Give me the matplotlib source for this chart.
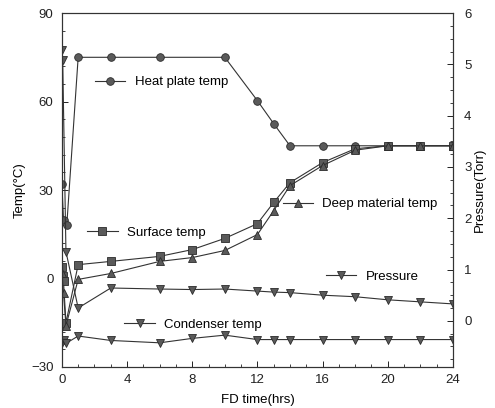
import matplotlib
matplotlib.use('Agg')
import matplotlib.pyplot as plt
from matplotlib.legend import Legend
from matplotlib.ticker import MultipleLocator

plt.rcParams['font.family'] = ['Liberation Sans', 'DejaVu Sans']

# freeze-drying run, temperatures (left axis) and chamber pressure (right axis)
heat_t = [0, 0.1, 0.3, 1, 3, 6, 10, 12, 13, 14, 16, 18, 20, 22, 24]
heat_temp = [32, 20, 18, 75, 75, 75, 75, 60.3, 52.5, 45, 45, 45, 45, 45, 45]

surf_t = [0, 0.05, 0.1, 0.25, 1, 3, 6, 8, 10, 12, 13, 14, 16, 18, 20, 22, 24]
surf_temp = [4, 1, -1, -15, 4.7, 5.8, 7.5, 9.8, 13.6, 18.6, 25.8, 32.5, 39.3,
             44, 45, 45, 45]

deep_t = [0, 0.1, 0.25, 1, 3, 6, 8, 10, 12, 13, 14, 16, 18, 20, 22, 24]
deep_temp = [2, -5, -16, -0.3, 1.7, 5.8, 7.1, 9.5, 14.9, 23, 31.5, 38.3,
             43.5, 45, 45, 45]

cond_t = [0, 0.1, 0.25, 1, 3, 6, 8, 10, 12, 13, 14, 16, 18, 20, 22, 24]
cond_temp = [-22, -21, -22, -19.5, -21, -21.8, -20.3, -19.2, -20.7, -20.7,
             -20.7, -20.7, -20.7, -20.7, -20.7, -20.7]

pres_t = [0, 0.05, 0.25, 1, 3, 6, 8, 10, 12, 13, 14, 16, 18, 20, 22, 24]
pressure = [5.28, 5.08, 1.35, 0.25, 0.64, 0.62, 0.61, 0.62, 0.58, 0.56,
            0.55, 0.5, 0.47, 0.41, 0.37, 0.33]

line_kw = dict(color='#333333', linewidth=0.8, markersize=5.5,
               markerfacecolor='#5a5a5a', markeredgecolor='#2a2a2a',
               markeredgewidth=0.6)

fig = plt.figure(figsize=(4.95, 4.08), dpi=100)
ax = fig.add_axes([0.125, 0.1005, 0.79, 0.8675])
ax2 = ax.twinx()

l_heat, = ax.plot(heat_t, heat_temp, marker='o', label='Heat plate temp', **line_kw)
l_surf, = ax.plot(surf_t, surf_temp, marker='s', label='Surface temp', **line_kw)
l_deep, = ax.plot(deep_t, deep_temp, marker='^', label='Deep material temp', **line_kw)
l_cond, = ax.plot(cond_t, cond_temp, marker='v', label='Condenser temp', **line_kw)
l_pres, = ax2.plot(pres_t, pressure, marker='v', label='Pressure', **line_kw)

ax.set_xlim(0, 24)
ax.set_ylim(-30, 90)
ax2.set_ylim(-0.9, 6)

ax.xaxis.set_major_locator(MultipleLocator(4))
ax.xaxis.set_minor_locator(MultipleLocator(1))
ax.yaxis.set_major_locator(MultipleLocator(30))
ax.yaxis.set_minor_locator(MultipleLocator(6))
ax2.yaxis.set_major_locator(MultipleLocator(1))
ax2.yaxis.set_minor_locator(MultipleLocator(0.25))

for a in (ax, ax2):
    a.tick_params(which='both', direction='in', labelsize=9.5, colors='#222222')
    a.tick_params(which='major', length=4, width=0.7)
    a.tick_params(which='minor', length=2, width=0.6)
    for s in a.spines.values():
        s.set_linewidth(0.8)
        s.set_color('#333333')
ax.tick_params(axis='x', pad=5)
ax.tick_params(axis='y', pad=6)
ax2.tick_params(axis='y', pad=8)

ax.set_xlabel('FD time(hrs)', fontsize=9.5, labelpad=6)
ax.set_ylabel('Temp(°C)', fontsize=9.5, labelpad=4)
ax2.set_ylabel('Pressure(Torr)', fontsize=9.5, labelpad=2)

# one little key beside each curve
keys = [
    (l_heat, (0.085, 0.805)),
    (l_surf, (0.065, 0.38)),
    (l_deep, (0.565, 0.46)),
    (l_cond, (0.16, 0.12)),
    (l_pres, (0.675, 0.255)),
]
for handle, pos in keys:
    leg = Legend(ax2, [handle], [handle.get_label()], loc='center left',
                 bbox_to_anchor=pos, frameon=False, fontsize=9.5,
                 handlelength=2.3, handletextpad=0.7, borderpad=0,
                 borderaxespad=0)
    ax2.add_artist(leg)

fig.savefig('out.png', dpi=100)
